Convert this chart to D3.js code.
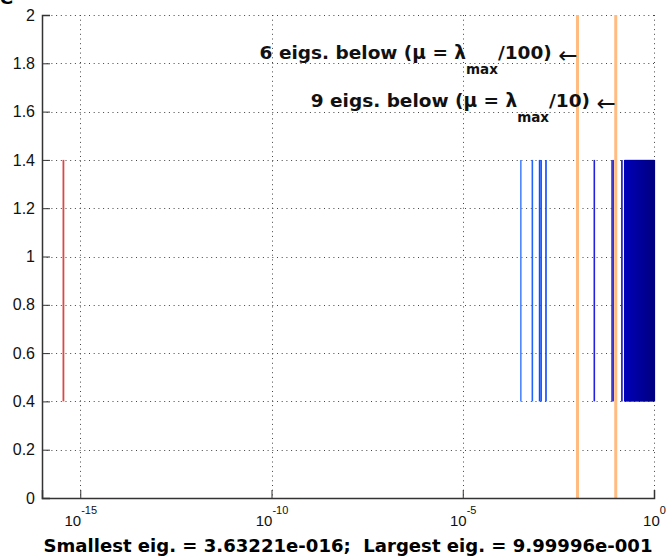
<!DOCTYPE html>
<html>
<head>
<meta charset="utf-8">
<script src="https://cdn.jsdelivr.net/npm/d3@7"></script>
<style>
  body { margin: 0; background: #fff; }
  svg { display: block; font-family: "Liberation Sans", Arial, sans-serif; }
  text { white-space: pre; }
</style>
</head>
<body>
<div id="chart"></div>
<script>
// eigenvalues (log x axis)
const smallEigs = [3.63221e-16];
const midEigs = [3.3e-4, 6.6e-4, 1.02e-3, 1.12e-3, 1.5e-3, 0.0275, 0.080, 0.086, 0.145];
const bulkEigs = [0.175, 0.184, 0.196, 0.209, 0.221, 0.236, 0.249, 0.266, 0.281, 0.300,
  0.318, 0.337, 0.360, 0.381, 0.404, 0.431, 0.455, 0.485, 0.513, 0.546,
  0.579, 0.617, 0.653, 0.695, 0.736, 0.784, 0.830, 0.884, 0.936, 0.999996];
const thresholds = [1e-2, 1e-1];           // lambda_max/100, lambda_max/10
const thresholdLabels = [
  {n: 6, div: "100", y: 1.8},
  {n: 9, div: "10", y: 1.6}
];
const xTicks = [1e-15, 1e-10, 1e-5, 1e0];
const xTickExp = ["-15", "-10", "-5", "0"];
const yTicks = [0, 0.2, 0.4, 0.6, 0.8, 1, 1.2, 1.4, 1.6, 1.8, 2];
const barLow = 0.4, barHigh = 1.4;

let margin = {top: 15, left: 42, right: 12, bottom: 62},
  width = 666 - margin.left - margin.right,
  height = 560 - margin.top - margin.bottom;

let svg = d3.select("#chart").append("svg")
  .attr("width", 666).attr("height", 560);

// clipped title glyph at the very top
svg.append("text").attr("x", 0).attr("y", 4)
  .style("font-family", "DejaVu Sans").style("font-size", "20px").style("font-weight", "bold").text("e");

let g = svg.append("g").attr("transform", "translate(" + margin.left + "," + margin.top + ")");

let x = d3.scaleLog().domain([1e-16, 1]).range([0, width]);
let y = d3.scaleLinear().domain([0, 2]).range([height, 0]);

// dotted grid
g.selectAll(".hgrid").data(yTicks.filter(d => d > 0)).enter().append("line")
  .attr("x1", 0).attr("x2", width)
  .attr("y1", d => Math.round(y(d)) + 0.5).attr("y2", d => Math.round(y(d)) + 0.5)
  .attr("stroke", "#444").attr("stroke-width", 1).attr("stroke-dasharray", "1,3.7");
g.selectAll(".vgrid").data(xTicks).enter().append("line")
  .attr("x1", d => Math.round(x(d)) + 0.5).attr("x2", d => Math.round(x(d)) + 0.5)
  .attr("y1", 0).attr("y2", height)
  .attr("stroke", "#444").attr("stroke-width", 1).attr("stroke-dasharray", "1,3.7");

// eigenvalue color: light blue for small, navy for large
let color = d3.scaleLinear()
  .domain([-3.5, -3, -1.6, -1, -0.75, 0])
  .range(["#4f88ff", "#0a50ff", "#2020e0", "#3434c4", "#0000b8", "#000082"]);

g.selectAll(".bulk").data(bulkEigs).enter().append("line")
  .attr("x1", d => x(d)).attr("x2", d => x(d))
  .attr("y1", y(barLow)).attr("y2", y(barHigh))
  .attr("stroke", d => color(Math.log10(d))).attr("stroke-width", 2.2);
g.selectAll(".mid").data(midEigs).enter().append("line")
  .attr("x1", d => x(d)).attr("x2", d => x(d))
  .attr("y1", y(barLow)).attr("y2", y(barHigh))
  .attr("stroke", d => color(Math.log10(d))).attr("stroke-width", 1.6);
g.selectAll(".small").data(smallEigs).enter().append("line")
  .attr("x1", d => x(d)).attr("x2", d => x(d))
  .attr("y1", y(barLow)).attr("y2", y(barHigh))
  .attr("stroke", "#d84a4a").attr("stroke-width", 1.8);

// threshold lines
g.selectAll(".thr").data(thresholds).enter().append("line")
  .attr("x1", d => x(d)).attr("x2", d => x(d))
  .attr("y1", 0).attr("y2", height)
  .attr("stroke", "#ffbb80").attr("stroke-width", 3);

// annotations
thresholdLabels.forEach((t, i) => {
  let tx = g.append("text")
    .attr("x", x(thresholds[i]))
    .attr("y", y(t.y) - 4.5)
    .attr("text-anchor", "end")
    .style("font-family", "DejaVu Sans")
    .style("font-size", "18.5px").style("font-weight", "bold").attr("fill", "#111");
  tx.append("tspan").text(t.n + " eigs. below (\u03bc = \u03bb");
  tx.append("tspan").attr("dy", 15).style("font-size", "13.5px").text("max");
  tx.append("tspan").attr("dy", -15).text("/" + t.div + ") ");
  tx.append("tspan").attr("dy", 4).style("font-weight", "normal")
    .style("font-size", "23px").text("\u2190");
});

// axes
let xAxis = g.append("g").attr("transform", "translate(0," + height + ")")
  .call(d3.axisBottom(x).tickValues(xTicks).tickSize(-8).tickFormat(""));
xAxis.select(".domain").attr("stroke", "#333").attr("stroke-width", 1.5);
xAxis.selectAll(".tick line").attr("stroke", "#333");
xAxis.selectAll(".tick").append("text")
  .attr("fill", "#111").attr("y", 28).attr("text-anchor", "middle")
  .style("font-size", "15px")
  .each(function(d, i) {
    let t = d3.select(this);
    t.append("tspan").text("10");
    t.append("tspan").attr("dy", -12).style("font-size", "11px").text(xTickExp[i]);
  });

let yAxis = g.append("g")
  .call(d3.axisLeft(y).tickValues(yTicks).tickSize(-8).tickPadding(7).tickFormat(d3.format("~g")));
yAxis.select(".domain").attr("stroke", "#333").attr("stroke-width", 1.5);
yAxis.selectAll(".tick line").attr("stroke", "#333");
yAxis.selectAll(".tick text").attr("fill", "#111").style("font-size", "16px")
  .style("font-family", "Liberation Sans, Arial, sans-serif");

// x label
g.append("text")
  .attr("x", width / 2).attr("y", height + 54)
  .attr("text-anchor", "middle")
  .attr("textLength", 609).attr("lengthAdjust", "spacingAndGlyphs")
  .style("font-family", "DejaVu Sans")
  .style("font-size", "18.5px").style("font-weight", "bold").attr("fill", "#000")
  .text("Smallest eig. = 3.63221e-016;  Largest eig. = 9.99996e-001");
</script>
</body>
</html>
